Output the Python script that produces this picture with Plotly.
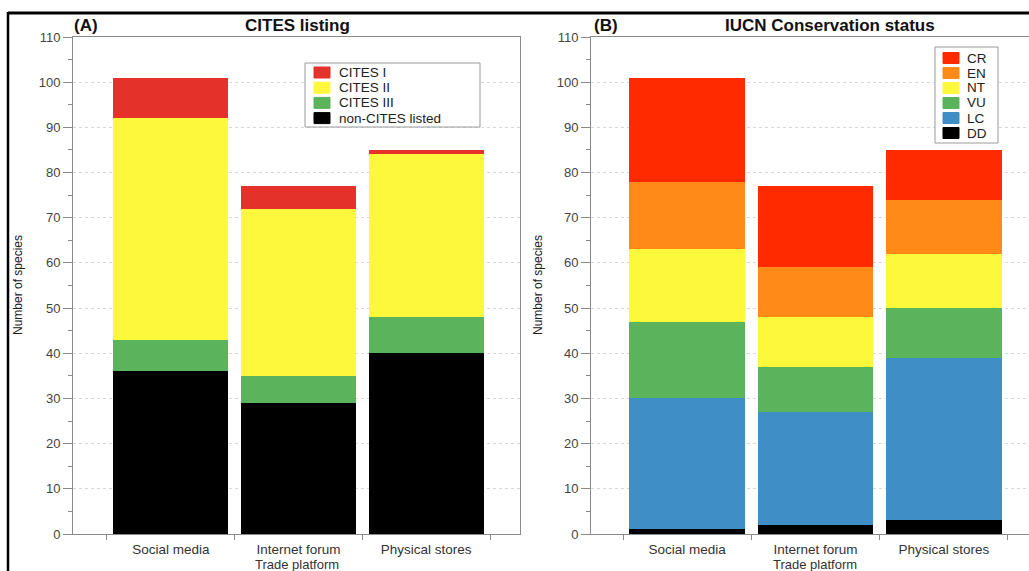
import plotly.graph_objects as go
from plotly.subplots import make_subplots

platforms = ["Social media", "Internet forum", "Physical stores"]

# (A) CITES listing, stacked bottom -> top
cites_names = ["non-CITES listed", "CITES III", "CITES II", "CITES I"]
cites_values = [
    [36, 29, 40],  # non-CITES listed
    [7, 6, 8],     # CITES III
    [49, 37, 36],  # CITES II
    [9, 5, 1],     # CITES I
]
cites_colors = ["#000000", "#5bb35c", "#fdf83c", "#e4322b"]

# (B) IUCN status, stacked bottom -> top
iucn_names = ["DD", "LC", "VU", "NT", "EN", "CR"]
iucn_values = [
    [1, 2, 3],      # DD
    [29, 25, 36],   # LC
    [17, 10, 11],   # VU
    [16, 11, 12],   # NT
    [15, 11, 12],   # EN
    [23, 18, 11],   # CR
]
iucn_colors = ["#000000", "#3f8ec6", "#5bb35c", "#fdf83c", "#ff8a17", "#ff2a00"]

W, H = 1029, 571
FONT = "Liberation Sans, Arial, sans-serif"


def px_x(x):
    return x / W


def px_y(y):
    return (H - y) / H


fig = make_subplots(rows=1, cols=2)

for name, vals, col in zip(cites_names, cites_values, cites_colors):
    fig.add_trace(go.Bar(x=platforms, y=vals, name=name, marker_color=col,
                         marker_line_width=0, width=0.9, showlegend=False),
                  row=1, col=1)

for name, vals, col in zip(iucn_names, iucn_values, iucn_colors):
    fig.add_trace(go.Bar(x=platforms, y=vals, name=name, marker_color=col,
                         marker_line_width=0, width=0.9, showlegend=False),
                  row=1, col=2)

axis_col = "#8a8a8a"
tick_font = dict(family=FONT, size=13, color="#444444")

xcommon = dict(
    type="category", tickson="boundaries", ticks="outside", ticklen=5,
    tickcolor=axis_col, showline=True, linecolor=axis_col, linewidth=1,
    showgrid=False, tickfont=dict(family=FONT, size=13.5, color="#333333"),
    ticklabelstandoff=3, mirror=True,
)
ycommon = dict(
    range=[0, 110], dtick=10, ticks="outside", ticklen=9, tickcolor=axis_col,
    showline=True, linecolor=axis_col, linewidth=1, tickfont=tick_font,
    showgrid=True, gridcolor="#d8d8d8", griddash="dot", gridwidth=1,
    zeroline=False,
    minor=dict(dtick=5, ticks="outside", ticklen=4, tickcolor=axis_col, showgrid=False),
)

fig.update_layout(
    xaxis=dict(domain=[px_x(73), px_x(520)], range=[-0.766, 2.735], **xcommon),
    xaxis2=dict(domain=[px_x(591), 1.0], range=[-0.75, 2.664], **xcommon),
    yaxis=dict(domain=[px_y(534), px_y(37)], mirror=True, **ycommon),
    yaxis2=dict(domain=[px_y(534), px_y(37)], mirror=False, **ycommon),
)


def draw_legend(names, colors, box, sw_x, text_x, y0, step):
    # box = (x0, y0, x1, y1) in pixels
    fig.add_shape(type="rect", xref="paper", yref="paper",
                  x0=px_x(box[0]), x1=px_x(box[2]), y0=px_y(box[1]), y1=px_y(box[3]),
                  line=dict(color="#9a9a9a", width=1), fillcolor="white", layer="above")
    for i, (name, col) in enumerate(zip(names, colors)):
        yc = y0 + i * step
        fig.add_shape(type="rect", xref="paper", yref="paper",
                      x0=px_x(sw_x), x1=px_x(sw_x + 16),
                      y0=px_y(yc - 5.5), y1=px_y(yc + 5.5),
                      line=dict(color=col, width=1), fillcolor=col, layer="above")
        fig.add_annotation(text=name, xref="paper", yref="paper",
                           x=px_x(text_x), y=px_y(yc), xanchor="left", yanchor="middle",
                           showarrow=False,
                           font=dict(family=FONT, size=13.5, color="#222222"))


draw_legend(cites_names[::-1], cites_colors[::-1], (305, 63, 480, 127), 314, 337, 72.5, 15.2)
draw_legend(iucn_names[::-1], iucn_colors[::-1], (935, 47, 998, 143), 943, 965, 58, 15)

annotations = [
    dict(text="<b>(A)</b>", x=px_x(86), y=px_y(25)),
    dict(text="<b>CITES listing</b>", x=px_x(297), y=px_y(25)),
    dict(text="<b>(B)</b>", x=px_x(606), y=px_y(25)),
    dict(text="<b>IUCN Conservation status</b>", x=px_x(830), y=px_y(25)),
]
for a in annotations:
    fig.add_annotation(xref="paper", yref="paper", showarrow=False,
                       xanchor="center", yanchor="middle",
                       font=dict(family=FONT, size=17, color="#111111"), **a)

for xc in (18, 538):
    fig.add_annotation(text="Number of species", xref="paper", yref="paper",
                       x=px_x(xc), y=px_y(285), textangle=-90, showarrow=False,
                       xanchor="center", yanchor="middle",
                       font=dict(family=FONT, size=12, color="#222222"))

for xc in (297, 815):
    fig.add_annotation(text="Trade platform", xref="paper", yref="paper",
                       x=px_x(xc), y=px_y(564), showarrow=False,
                       xanchor="center", yanchor="middle",
                       font=dict(family=FONT, size=13, color="#333333"))

# black outer frame (top and left edges)
fig.add_shape(type="line", xref="paper", yref="paper",
              x0=px_x(8), x1=1.0, y0=px_y(13), y1=px_y(13),
              line=dict(color="black", width=3))
fig.add_shape(type="line", xref="paper", yref="paper",
              x0=px_x(8), x1=px_x(8), y0=px_y(12), y1=0,
              line=dict(color="black", width=2.5))

fig.update_layout(
    barmode="stack", bargap=0.1, showlegend=False, autosize=True,
    margin=dict(l=0, r=0, t=0, b=0, autoexpand=False),
    paper_bgcolor="white", plot_bgcolor="white",
    font=dict(family=FONT),
)

fig.write_html(
    "out.html",
    default_width="100vw", default_height="100vh",
    config={"displayModeBar": False, "responsive": True},
    post_script=("document.body.style.margin='0';"
                 "document.body.style.overflow='hidden';"
                 "Plotly.Plots.resize(document.getElementById('{plot_id}'));"),
)
